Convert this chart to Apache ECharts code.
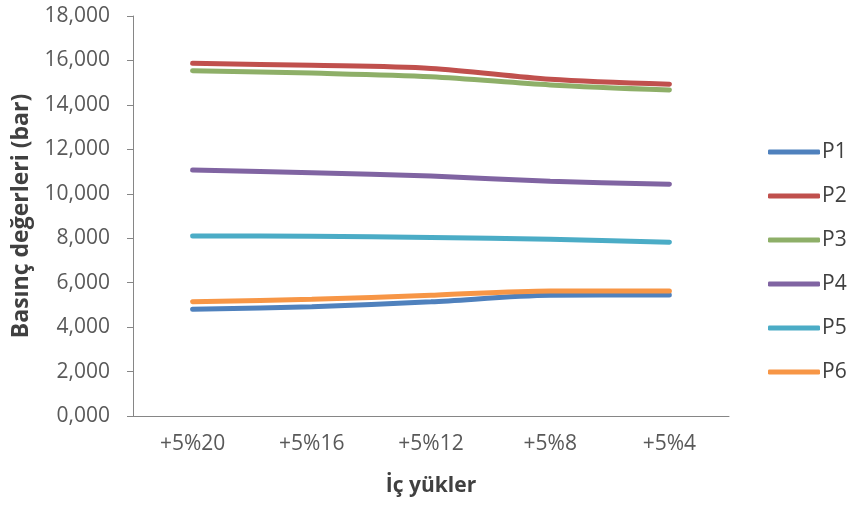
<!DOCTYPE html>
<html>
<head>
    <meta charset="UTF-8">
    <title>Basınç değerleri</title>
    <script src="https://cdn.jsdelivr.net/npm/echarts@6/dist/echarts.min.js"></script>
    <style>
        html, body { margin: 0; padding: 0; background: #fff; }
    </style>
</head>
<body>
<div id="main" style="width: 853px;height:509px;"></div>
<script type="text/javascript">
    // kategoriler (iç yükler)
    var categories = ['+5%20', '+5%16', '+5%12', '+5%8', '+5%4'];
    // basınç değerleri (bar)
    var p1 = [4.80, 4.92, 5.14, 5.43, 5.45];
    var p2 = [15.87, 15.78, 15.64, 15.15, 14.93];
    var p3 = [15.54, 15.43, 15.27, 14.90, 14.67];
    var p4 = [11.07, 10.95, 10.80, 10.56, 10.43];
    var p5 = [8.10, 8.09, 8.03, 7.95, 7.82];
    var p6 = [5.14, 5.25, 5.43, 5.63, 5.63];
    var seriesNames = ['P1', 'P2', 'P3', 'P4', 'P5', 'P6'];
    var seriesData = [p1, p2, p3, p4, p5, p6];
    var colors = ['#4F81BD', '#C0504D', '#8EAF68', '#8064A2', '#4BACC6', '#F79646'];

    var font = 'Open Sans';
    var series = [];
    for (var i = 0; i < seriesNames.length; i++) {
        series.push({
            name: seriesNames[i],
            type: 'line',
            smooth: 0.3,
            symbol: 'none',
            data: seriesData[i],
            lineStyle: {width: 5, color: colors[i], cap: 'round'},
            itemStyle: {color: colors[i]}
        });
    }

    echarts.init(document.getElementById('main')).setOption({
        animation: false,
        color: colors,
        textStyle: {fontFamily: font},
        grid: {left: 133, right: 124, top: 16, bottom: 93},
        legend: {
            orient: 'vertical',
            left: 763,
            top: 135,
            itemWidth: 52,
            itemHeight: 5,
            itemGap: 20,
            itemStyle: {borderWidth: 0},
            icon: 'roundRect',
            data: seriesNames,
            textStyle: {fontFamily: font, fontSize: 21, color: '#404040', lineHeight: 24, padding: [0, 0, 0, -3]}
        },
        xAxis: {
            type: 'category',
            data: categories,
            name: 'İç yükler',
            nameLocation: 'middle',
            nameGap: 60,
            nameTextStyle: {fontFamily: font, fontSize: 21, fontWeight: 'bold', color: '#404040'},
            axisLine: {lineStyle: {color: '#868686', width: 1}},
            axisTick: {length: 6, lineStyle: {color: '#868686'}},
            axisLabel: {margin: 18, fontSize: 21, color: '#595959', fontFamily: font}
        },
        yAxis: {
            type: 'value',
            min: 0,
            max: 18,
            interval: 2,
            name: 'Basınç değerleri (bar)',
            nameLocation: 'middle',
            nameGap: 100,
            nameTextStyle: {fontFamily: font, fontSize: 23, fontWeight: 'bold', color: '#404040'},
            axisLine: {show: true, lineStyle: {color: '#868686', width: 1}},
            axisTick: {show: true, length: 6, lineStyle: {color: '#868686'}},
            splitLine: {show: false},
            axisLabel: {
                margin: 23,
                fontSize: 21,
                color: '#595959',
                fontFamily: font,
                formatter: function (v) {
                    // Türkçe biçim: 18,000
                    return v.toFixed(3).replace('.', ',');
                }
            }
        },
        series: series
    });
</script>
</body>
</html>
